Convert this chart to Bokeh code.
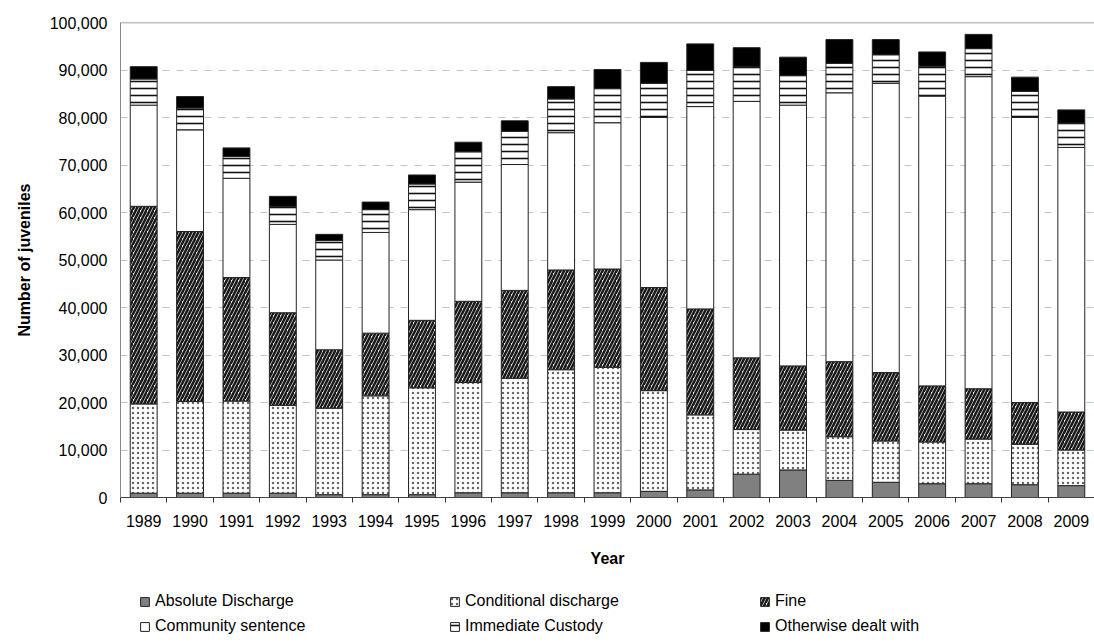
from bokeh.plotting import figure
from bokeh.layouts import column
from bokeh.models import (ColumnDataSource, Range1d, FixedTicker, NumeralTickFormatter,
                          Legend, LegendItem, Span)
from bokeh.embed import file_html
from bokeh.resources import INLINE

years = list(range(1989, 2010))
absolute_discharge = [900, 900, 900, 900, 600, 600, 600, 1000, 1000, 1000, 1000,
                      1300, 1600, 4900, 5800, 3600, 3200, 2900, 2900, 2700, 2500]
conditional_discharge = [18800, 19300, 19400, 18500, 18200, 20800, 22500, 23200, 24100, 25900, 26400,
                         21200, 15800, 9400, 8400, 9200, 8700, 8800, 9400, 8500, 7500]
fine = [41600, 35800, 26000, 19500, 12300, 13200, 14200, 17100, 18500, 21000, 20700,
        21700, 22300, 15100, 13500, 15800, 14400, 11800, 10600, 8800, 8000]
community_sentence = [21300, 21400, 20900, 18600, 18900, 21200, 23300, 25100, 26500, 28900, 30800,
                      35800, 42600, 54000, 54900, 56600, 60900, 61000, 65700, 60000, 55700]
immediate_custody = [5500, 4600, 4600, 3800, 4100, 4800, 5400, 6400, 7000, 7100, 7200,
                     7200, 7600, 7300, 6200, 6200, 6000, 6300, 5900, 5500, 5100]
otherwise_dealt = [2600, 2400, 1800, 2100, 1300, 1600, 1900, 2000, 2200, 2600, 4000,
                   4400, 5600, 4000, 3900, 5000, 3200, 3000, 3000, 3000, 2800]

series_names = ["Absolute Discharge", "Conditional discharge", "Fine",
                "Community sentence", "Immediate Custody", "Otherwise dealt with"]
series_values = [absolute_discharge, conditional_discharge, fine,
                 community_sentence, immediate_custody, otherwise_dealt]

styles = [
    dict(fill_color="#808080"),
    dict(fill_color="white", hatch_pattern="dot", hatch_color="#666666", hatch_scale=5, hatch_weight=1.1),
    dict(fill_color="white", hatch_pattern="right_diagonal_line", hatch_color="#1a1a1a", hatch_scale=7, hatch_weight=2.6),
    dict(fill_color="white"),
    dict(fill_color="white", hatch_pattern="horizontal_line", hatch_color="#111111", hatch_scale=7, hatch_weight=1.6),
    dict(fill_color="black"),
]

FONT = "Liberation Sans"

p = figure(width=1094, height=577, output_backend="svg", toolbar_location=None,
           x_range=Range1d(1988.5, 2009.5), y_range=Range1d(0, 100000),
           min_border_left=120, min_border_top=22, min_border_right=0, min_border_bottom=80)
p.outline_line_color = None
p.background_fill_color = "white"

src = {"x": years}
bottom = [0] * len(years)
for i, vals in enumerate(series_values):
    top = [b + v for b, v in zip(bottom, vals)]
    src[f"b{i}"] = bottom
    src[f"t{i}"] = top
    bottom = top
source = ColumnDataSource(src)

for i, name in enumerate(series_names):
    p.vbar(x="x", width=0.58, bottom=f"b{i}", top=f"t{i}", source=source,
           line_color="#222222", line_width=1, **styles[i])

# axes
p.xaxis.ticker = FixedTicker(ticks=years, minor_ticks=[y + 0.5 for y in range(1988, 2010)])
p.xaxis.major_label_overrides = {y: str(y) for y in years}
p.xaxis.major_tick_line_color = None
p.xaxis.major_tick_out = 0
p.xaxis.major_tick_in = 0
p.xaxis.minor_tick_line_color = "#333333"
p.xaxis.minor_tick_out = 5
p.xaxis.minor_tick_in = 0
p.xaxis.axis_line_color = "#444444"
p.xaxis.major_label_standoff = 12
p.xaxis.major_label_text_font = FONT
p.xaxis.major_label_text_font_size = "16px"
p.xaxis.major_label_text_color = "black"
p.xaxis.axis_label = "Year"
p.xaxis.axis_label_text_font = FONT
p.xaxis.axis_label_text_font_size = "16px"
p.xaxis.axis_label_text_font_style = "bold"
p.xaxis.axis_label_text_color = "black"
p.xaxis.axis_label_standoff = 20

p.yaxis.ticker = FixedTicker(ticks=list(range(0, 100001, 10000)))
p.yaxis.formatter = NumeralTickFormatter(format="0,0")
p.yaxis.major_tick_line_color = None
p.yaxis.minor_tick_line_color = None
p.yaxis.major_tick_out = 0
p.yaxis.major_tick_in = 0
p.yaxis.axis_line_color = "#888888"
p.yaxis.major_label_standoff = 13
p.yaxis.major_label_text_font = FONT
p.yaxis.major_label_text_font_size = "16px"
p.yaxis.major_label_text_color = "black"
p.yaxis.axis_label = "Number of juveniles"
p.yaxis.axis_label_text_font = FONT
p.yaxis.axis_label_text_font_size = "16px"
p.yaxis.axis_label_text_font_style = "bold"
p.yaxis.axis_label_text_color = "black"
p.yaxis.axis_label_standoff = 14

p.xgrid.grid_line_color = None
p.ygrid.ticker = FixedTicker(ticks=list(range(10000, 100000, 10000)))
p.ygrid.grid_line_color = "#b8c6d0"
p.ygrid.grid_line_dash = "7 7"
p.ygrid.level = "underlay"

p.add_layout(Span(location=100000, dimension="width", line_color="#808080", line_width=1.5))

# legend figure
lg = figure(width=1094, height=66, output_backend="svg", toolbar_location=None,
            x_range=Range1d(0, 1), y_range=Range1d(0, 1), x_axis_type=None, y_axis_type=None,
            min_border_left=0, min_border_right=0, min_border_top=0, min_border_bottom=0)
lg.outline_line_color = None
lg.xgrid.grid_line_color = None
lg.ygrid.grid_line_color = None
empty = ColumnDataSource(dict(x=[5.0], b=[5.0], t=[6.0]))
items = []
for i, name in enumerate(series_names):
    r = lg.vbar(x="x", width=0.5, bottom="b", top="t", source=empty,
                line_color="#222222", line_width=1, **styles[i])
    items.append(LegendItem(label=name, renderers=[r]))

legend = Legend(items=items, orientation="horizontal", ncols=3,
                glyph_width=11, glyph_height=11, label_standoff=5, label_width=289,
                spacing=5, padding=4, margin=0, border_line_color=None,
                background_fill_alpha=0, label_text_font=FONT, label_text_font_size="16px",
                label_text_color="black", label_height=20, location=(19, 7))
lg.add_layout(legend, "center")

layout = column(p, lg, spacing=0)
open("out.html", "w").write(file_html(layout, INLINE))
